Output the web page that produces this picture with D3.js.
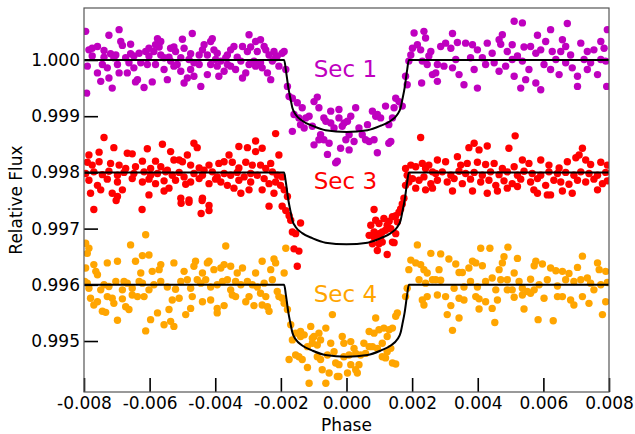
<!DOCTYPE html>
<html>
<head>
<meta charset="utf-8">
<script src="https://cdn.jsdelivr.net/npm/d3@7/dist/d3.min.js"></script>
<style>
  body { margin: 0; background: #fff; }
  svg { font-family: "DejaVu Sans", sans-serif; }
</style>
</head>
<body>
<div id="chart"></div>
<script>
// phase-folded photometry, [phase, relative flux]
var sec1Points = [
  [-0.00795,1.00051],[-0.00693,1.00054],[-0.00724,1.00044],[-0.00470,1.00047],[-0.00297,1.00045],[-0.00576,1.00038],
  [-0.00500,1.00037],[-0.00409,1.00038],[-0.00414,1.00033],[-0.00785,1.00018],[-0.00775,1.00021],[-0.00759,1.00024],
  [-0.00739,1.00017],[-0.00719,1.00011],[-0.00703,1.00009],[-0.00688,1.00033],[-0.00683,1.00026],[-0.00658,1.00028],
  [-0.00673,1.00004],[-0.00658,1.00011],[-0.00632,1.00012],[-0.00612,1.00015],[-0.00582,1.00027],[-0.00566,1.00033],
  [-0.00571,1.00023],[-0.00587,1.00015],[-0.00602,1.00007],[-0.00556,1.00004],[-0.00536,1.00021],[-0.00526,1.00023],
  [-0.00521,1.00015],[-0.00541,1.00005],[-0.00505,1.00004],[-0.00495,1.00021],[-0.00475,1.00011],[-0.00480,1.00001],
  [-0.00449,1.00009],[-0.00434,1.00027],[-0.00439,1.00018],[-0.00424,1.00009],[-0.00404,1.00018],[-0.00394,1.00012],
  [-0.00383,0.99998],[-0.00368,1.00004],[-0.00353,1.00018],[-0.00343,1.00024],[-0.00333,1.00005],[-0.00322,0.99998],
  [-0.00302,1.00015],[-0.00292,1.00023],[-0.00277,1.00033],[-0.00272,1.00015],[-0.00282,0.99998],[-0.00790,0.99989],
  [-0.00775,1.00007],[-0.00759,0.99977],[-0.00744,0.99992],[-0.00729,0.99986],[-0.00724,0.99968],[-0.00749,0.99962],
  [-0.00714,0.99950],[-0.00698,0.99992],[-0.00693,0.99977],[-0.00668,0.99977],[-0.00648,0.99986],[-0.00637,0.99965],
  [-0.00643,0.99961],[-0.00617,0.99951],[-0.00627,0.99995],[-0.00607,0.99992],[-0.00592,0.99961],[-0.00582,0.99992],
  [-0.00556,0.99983],[-0.00546,0.99965],[-0.00536,0.99998],[-0.00526,0.99989],[-0.00505,0.99980],[-0.00495,0.99959],
  [-0.00485,0.99968],[-0.00465,0.99971],[-0.00475,0.99983],[-0.00444,0.99953],[-0.00449,0.99992],[-0.00424,0.99974],
  [-0.00414,0.99992],[-0.00394,0.99989],[-0.00389,0.99971],[-0.00373,0.99980],[-0.00363,0.99992],[-0.00353,0.99989],
  [-0.00338,0.99983],[-0.00317,0.99968],[-0.00307,0.99977],[-0.00297,0.99992],[-0.00277,0.99989],[-0.00792,0.99941],
  [-0.00663,0.99995],[-0.00648,1.00007],[-0.00516,0.99992],[-0.00739,1.00005],[-0.00709,1.00004],[-0.00602,1.00021],
  [-0.00566,1.00009],[-0.00465,0.99995],[-0.00399,1.00001],[-0.00363,1.00009],[-0.00317,1.00024],
  [-0.00262,1.00036],[-0.00251,1.00024],[-0.00246,1.00018],[-0.00236,1.00009],[-0.00221,1.00015],[-0.00211,1.00007],
  [-0.00196,1.00012],[-0.00190,1.00015],[-0.00226,0.99998],[-0.00257,0.99986],[-0.00241,0.99977],[-0.00231,0.99965],
  [-0.00262,0.99995],[-0.00206,0.99989],[-0.00216,1.00004],[-0.00185,0.99983],[-0.00180,0.99953],[-0.00175,0.99935],
  [-0.00165,0.99932],[-0.00150,0.99924],[-0.00160,0.99903],[-0.00135,0.99915],[-0.00124,0.99897],[-0.00114,0.99900],
  [-0.00140,0.99885],[-0.00165,0.99873],[-0.00129,0.99879],[-0.00104,0.99882],[-0.00099,0.99926],[-0.00089,0.99934],
  [-0.00084,0.99915],[-0.00063,0.99891],[-0.00079,0.99867],[-0.00069,0.99858],[-0.00053,0.99852],[-0.00099,0.99849],
  [-0.00058,0.99832],[-0.00048,0.99909],[-0.00023,0.99912],[-0.00038,0.99879],[-0.00007,0.99888],[-0.00023,0.99897],
  [-0.00013,0.99882],[0.00003,0.99891],[0.00013,0.99900],[0.00028,0.99915],[0.00008,0.99867],[-0.00002,0.99858],
  [-0.00018,0.99843],[-0.00028,0.99820],[-0.00033,0.99817],[0.00008,0.99840],[0.00023,0.99855],[0.00038,0.99879],
  [0.00048,0.99867],[0.00064,0.99885],[0.00058,0.99858],[0.00069,0.99855],[0.00079,0.99909],[0.00089,0.99900],
  [0.00094,0.99903],[0.00104,0.99897],[0.00119,0.99918],[0.00129,0.99885],[0.00140,0.99897],[0.00084,0.99858],
  [0.00094,0.99835],[0.00129,0.99852],[0.00135,0.99855],[0.00145,0.99915],[0.00150,0.99932],[0.00160,0.99926],
  [0.00170,0.99918],[-0.00084,0.99858],[-0.00145,0.99897],[-0.00069,0.99897],[-0.00048,0.99888],
  [0.00180,0.99971],[0.00185,0.99956],[0.00190,0.99998],[0.00196,1.00009],[0.00201,1.00021],[0.00206,1.00048],
  [0.00216,1.00027],[0.00226,1.00018],[0.00236,1.00051],[0.00241,1.00039],[0.00231,0.99998],[0.00251,1.00007],
  [0.00257,1.00015],[0.00262,0.99974],[0.00229,0.99959],[0.00246,0.99992],
  [0.00511,1.00069],[0.00536,1.00066],[0.00673,1.00065],[0.00323,1.00047],[0.00622,1.00054],[0.00475,1.00045],
  [0.00582,1.00044],[0.00607,1.00033],[0.00658,1.00036],[0.00465,1.00036],[0.00287,1.00024],[0.00302,1.00030],
  [0.00318,1.00021],[0.00338,1.00031],[0.00363,1.00030],[0.00384,1.00027],[0.00399,1.00018],[0.00429,1.00030],
  [0.00444,1.00012],[0.00470,1.00028],[0.00490,1.00015],[0.00505,1.00027],[0.00521,1.00007],[0.00541,1.00023],
  [0.00561,1.00024],[0.00577,1.00012],[0.00592,1.00018],[0.00627,1.00015],[0.00653,1.00015],[0.00668,1.00024],
  [0.00683,1.00009],[0.00714,1.00030],[0.00734,1.00015],[0.00754,1.00018],[0.00775,1.00033],[0.00785,1.00021],
  [0.00795,1.00054],[0.00277,0.99992],[0.00297,0.99989],[0.00323,0.99986],[0.00343,0.99974],[0.00358,0.99956],
  [0.00389,0.99983],[0.00399,0.99950],[0.00424,0.99992],[0.00450,0.99995],[0.00465,0.99980],[0.00485,0.99989],
  [0.00511,0.99971],[0.00531,0.99950],[0.00556,0.99983],[0.00546,0.99965],[0.00577,0.99959],[0.00592,0.99947],
  [0.00602,0.99992],[0.00622,0.99983],[0.00648,0.99974],[0.00668,0.99995],[0.00688,0.99986],[0.00704,0.99971],
  [0.00704,0.99953],[0.00734,0.99983],[0.00744,0.99995],[0.00765,0.99974],[0.00790,0.99998],[0.00793,0.99953],
  [0.00277,0.99962],[0.00272,0.99977],[0.00414,1.00004],[0.00333,1.00001],[0.00378,1.00004],[0.00536,0.99998],
  [0.00638,1.00001],[0.00724,1.00001],[0.00505,1.00001],[0.00775,1.00001]
];

var sec3Points = [
  [-0.00739,0.99862],[-0.00709,0.99844],[-0.00754,0.99836],[-0.00785,0.99831],[-0.00668,0.99834],[-0.00653,0.99833],
  [-0.00607,0.99842],[-0.00561,0.99850],[-0.00536,0.99837],[-0.00510,0.99822],[-0.00485,0.99831],[-0.00465,0.99852],
  [-0.00455,0.99844],[-0.00358,0.99831],[-0.00328,0.99846],[-0.00302,0.99844],[-0.00277,0.99856],[-0.00277,0.99837],
  [-0.00790,0.99818],[-0.00775,0.99813],[-0.00754,0.99819],[-0.00719,0.99816],[-0.00693,0.99813],[-0.00673,0.99807],
  [-0.00643,0.99810],[-0.00622,0.99820],[-0.00597,0.99807],[-0.00582,0.99820],[-0.00566,0.99810],[-0.00546,0.99804],
  [-0.00526,0.99822],[-0.00500,0.99819],[-0.00475,0.99813],[-0.00449,0.99808],[-0.00434,0.99804],[-0.00419,0.99813],
  [-0.00389,0.99816],[-0.00373,0.99819],[-0.00348,0.99818],[-0.00328,0.99808],[-0.00307,0.99818],[-0.00287,0.99813],
  [-0.00795,0.99798],[-0.00770,0.99801],[-0.00744,0.99796],[-0.00724,0.99802],[-0.00698,0.99795],[-0.00678,0.99800],
  [-0.00648,0.99798],[-0.00617,0.99801],[-0.00597,0.99795],[-0.00576,0.99798],[-0.00551,0.99801],[-0.00531,0.99795],
  [-0.00510,0.99800],[-0.00495,0.99792],[-0.00465,0.99798],[-0.00439,0.99795],[-0.00409,0.99801],[-0.00394,0.99792],
  [-0.00373,0.99798],[-0.00353,0.99795],[-0.00333,0.99800],[-0.00312,0.99792],[-0.00292,0.99798],[-0.00272,0.99795],
  [-0.00785,0.99786],[-0.00759,0.99777],[-0.00729,0.99788],[-0.00698,0.99783],[-0.00683,0.99769],[-0.00653,0.99789],
  [-0.00622,0.99783],[-0.00602,0.99788],[-0.00582,0.99780],[-0.00556,0.99785],[-0.00541,0.99772],[-0.00521,0.99786],
  [-0.00490,0.99779],[-0.00475,0.99783],[-0.00449,0.99789],[-0.00419,0.99780],[-0.00399,0.99788],[-0.00383,0.99783],
  [-0.00363,0.99777],[-0.00328,0.99786],[-0.00292,0.99783],[-0.00297,0.99769],[-0.00780,0.99763],[-0.00749,0.99769],
  [-0.00714,0.99763],[-0.00698,0.99757],[-0.00602,0.99760],[-0.00505,0.99754],[-0.00480,0.99751],[-0.00439,0.99754],
  [-0.00556,0.99767],[-0.00343,0.99772],[-0.00322,0.99763],
  [-0.00770,0.99734],[-0.00623,0.99734],[-0.00504,0.99745],[-0.00480,0.99747],[-0.00443,0.99727],[-0.00419,0.99732],
  [-0.00419,0.99741],[-0.00702,0.99750],[-0.00440,0.99750],
  [-0.00257,0.99843],[-0.00231,0.99816],[-0.00216,0.99869],[-0.00206,0.99831],[-0.00262,0.99813],[-0.00246,0.99807],
  [-0.00226,0.99801],[-0.00211,0.99795],[-0.00196,0.99792],[-0.00251,0.99789],[-0.00236,0.99780],[-0.00216,0.99783],
  [-0.00201,0.99777],[-0.00190,0.99769],[-0.00180,0.99757],[-0.00257,0.99769],[-0.00221,0.99763],
  [-0.00236,0.99740],[-0.00196,0.99740],[-0.00185,0.99732],[-0.00175,0.99723],[-0.00170,0.99715],[-0.00140,0.99710],
  [-0.00165,0.99694],[-0.00155,0.99691],[-0.00160,0.99664],[-0.00145,0.99660],[-0.00150,0.99633],
  [0.00084,0.99734],[0.00089,0.99715],[0.00074,0.99706],[0.00099,0.99709],[0.00114,0.99718],[0.00130,0.99713],
  [0.00140,0.99721],[0.00150,0.99723],[0.00160,0.99729],[0.00170,0.99744],[0.00165,0.99735],[0.00069,0.99688],
  [0.00084,0.99685],[0.00099,0.99691],[0.00109,0.99694],[0.00119,0.99697],[0.00135,0.99700],[0.00150,0.99691],
  [0.00079,0.99673],[0.00099,0.99673],[0.00109,0.99676],[0.00140,0.99676],[0.00145,0.99675],[0.00094,0.99661],
  [0.00124,0.99654],[0.00084,0.99694],[0.00124,0.99706],[0.00104,0.99684],[0.00155,0.99712],[0.00175,0.99754],
  [0.00226,0.99862],[0.00180,0.99807],[0.00196,0.99813],[0.00211,0.99810],[0.00231,0.99816],[0.00241,0.99807],
  [0.00251,0.99813],[0.00262,0.99801],[0.00185,0.99795],[0.00201,0.99789],[0.00221,0.99786],[0.00236,0.99792],
  [0.00257,0.99780],[0.00180,0.99777],[0.00211,0.99772],[0.00241,0.99769],[0.00262,0.99772],[0.00190,0.99783],
  [0.00514,0.99865],[0.00373,0.99844],[0.00389,0.99852],[0.00404,0.99840],[0.00429,0.99847],[0.00495,0.99843],
  [0.00719,0.99843],[0.00709,0.99831],[0.00338,0.99828],[0.00277,0.99822],[0.00302,0.99819],[0.00348,0.99813],
  [0.00368,0.99816],[0.00399,0.99818],[0.00424,0.99814],[0.00450,0.99816],[0.00475,0.99807],[0.00511,0.99810],
  [0.00536,0.99822],[0.00556,0.99816],[0.00592,0.99822],[0.00617,0.99813],[0.00648,0.99808],[0.00673,0.99819],
  [0.00699,0.99826],[0.00729,0.99822],[0.00744,0.99814],[0.00775,0.99818],[0.00795,0.99813],[0.00272,0.99798],
  [0.00292,0.99801],[0.00318,0.99795],[0.00343,0.99802],[0.00363,0.99798],[0.00389,0.99800],[0.00414,0.99795],
  [0.00439,0.99801],[0.00465,0.99796],[0.00490,0.99801],[0.00521,0.99795],[0.00541,0.99802],[0.00566,0.99798],
  [0.00592,0.99795],[0.00617,0.99801],[0.00643,0.99798],[0.00668,0.99800],[0.00693,0.99795],[0.00714,0.99801],
  [0.00739,0.99798],[0.00765,0.99795],[0.00790,0.99800],[0.00277,0.99786],[0.00307,0.99783],[0.00328,0.99789],
  [0.00353,0.99780],[0.00378,0.99788],[0.00409,0.99783],[0.00434,0.99786],[0.00455,0.99777],[0.00480,0.99785],
  [0.00505,0.99780],[0.00531,0.99788],[0.00561,0.99783],[0.00582,0.99789],[0.00607,0.99777],[0.00632,0.99786],
  [0.00653,0.99783],[0.00678,0.99779],[0.00704,0.99786],[0.00729,0.99783],[0.00754,0.99788],[0.00780,0.99780],
  [0.00795,0.99785],[0.00323,0.99767],[0.00384,0.99767],[0.00460,0.99767],[0.00490,0.99772],[0.00571,0.99769],
  [0.00582,0.99763],[0.00612,0.99760],[0.00622,0.99760],[0.00658,0.99767],[0.00688,0.99763],[0.00765,0.99769],
  [0.00429,0.99763],[0.00521,0.99775]
];

var sec4Points = [
  [-0.00612,0.99689],[-0.00658,0.99671],[-0.00368,0.99669],[-0.00785,0.99665],[-0.00795,0.99674],[-0.00790,0.99656],
  [-0.00622,0.99652],[-0.00602,0.99653],[-0.00643,0.99642],[-0.00698,0.99642],[-0.00729,0.99639],[-0.00770,0.99636],
  [-0.00764,0.99624],[-0.00759,0.99618],[-0.00566,0.99636],[-0.00571,0.99627],[-0.00592,0.99624],[-0.00627,0.99621],
  [-0.00526,0.99639],[-0.00495,0.99624],[-0.00460,0.99642],[-0.00465,0.99633],[-0.00419,0.99642],[-0.00424,0.99639],
  [-0.00439,0.99621],[-0.00404,0.99627],[-0.00383,0.99630],[-0.00373,0.99636],[-0.00353,0.99633],[-0.00333,0.99621],
  [-0.00317,0.99630],[-0.00277,0.99621],[-0.00795,0.99630],[-0.00798,0.99606],[-0.00790,0.99603],[-0.00749,0.99591],
  [-0.00724,0.99597],[-0.00703,0.99606],[-0.00678,0.99606],[-0.00668,0.99603],[-0.00653,0.99594],[-0.00632,0.99606],
  [-0.00622,0.99603],[-0.00587,0.99600],[-0.00566,0.99606],[-0.00546,0.99596],[-0.00521,0.99592],[-0.00505,0.99606],
  [-0.00485,0.99609],[-0.00475,0.99594],[-0.00455,0.99609],[-0.00444,0.99603],[-0.00429,0.99609],[-0.00414,0.99596],
  [-0.00394,0.99600],[-0.00378,0.99606],[-0.00363,0.99609],[-0.00353,0.99591],[-0.00338,0.99606],[-0.00322,0.99600],
  [-0.00302,0.99606],[-0.00287,0.99600],[-0.00272,0.99596],[-0.00780,0.99576],[-0.00770,0.99564],[-0.00759,0.99570],
  [-0.00744,0.99553],[-0.00734,0.99551],[-0.00729,0.99579],[-0.00714,0.99576],[-0.00709,0.99567],[-0.00683,0.99575],
  [-0.00673,0.99561],[-0.00663,0.99556],[-0.00653,0.99582],[-0.00637,0.99579],[-0.00617,0.99579],[-0.00602,0.99591],
  [-0.00597,0.99538],[-0.00612,0.99518],[-0.00576,0.99550],[-0.00556,0.99529],[-0.00541,0.99556],[-0.00531,0.99573],
  [-0.00536,0.99535],[-0.00526,0.99526],[-0.00510,0.99576],[-0.00490,0.99547],[-0.00475,0.99558],[-0.00470,0.99579],
  [-0.00439,0.99570],[-0.00414,0.99573],[-0.00394,0.99558],[-0.00394,0.99550],[-0.00373,0.99563],[-0.00348,0.99582],
  [-0.00338,0.99579],[-0.00307,0.99570],[-0.00297,0.99579],[-0.00282,0.99563],[-0.00785,0.99594],[-0.00698,0.99537],
  [-0.00739,0.99600],[-0.00683,0.99591],
  [-0.00257,0.99642],[-0.00221,0.99646],[-0.00216,0.99639],[-0.00231,0.99627],[-0.00190,0.99621],[-0.00226,0.99609],
  [-0.00251,0.99603],[-0.00262,0.99585],[-0.00246,0.99579],[-0.00211,0.99588],[-0.00206,0.99579],[-0.00196,0.99576],
  [-0.00190,0.99567],[-0.00236,0.99553],[-0.00257,0.99564],[-0.00241,0.99561],[-0.00185,0.99665],[-0.00180,0.99556],
  [-0.00170,0.99529],[-0.00155,0.99514],[-0.00140,0.99517],[-0.00129,0.99511],[-0.00109,0.99526],[-0.00099,0.99508],
  [-0.00084,0.99514],[-0.00063,0.99523],[-0.00043,0.99547],[-0.00079,0.99502],[-0.00089,0.99493],[-0.00104,0.99496],
  [-0.00119,0.99490],[-0.00140,0.99508],[-0.00165,0.99502],[-0.00155,0.99475],[-0.00145,0.99472],[-0.00175,0.99467],
  [-0.00135,0.99467],[-0.00119,0.99453],[-0.00079,0.99467],[-0.00074,0.99449],[-0.00053,0.99443],[-0.00033,0.99461],
  [-0.00023,0.99458],[-0.00028,0.99437],[-0.00063,0.99425],[-0.00114,0.99425],[-0.00013,0.99508],[-0.00008,0.99496],
  [0.00013,0.99499],[0.00023,0.99487],[0.00008,0.99475],[-0.00008,0.99472],[0.00028,0.99478],[0.00043,0.99475],
  [0.00053,0.99496],[0.00069,0.99517],[0.00084,0.99514],[0.00089,0.99541],[0.00099,0.99520],[0.00114,0.99523],
  [0.00130,0.99520],[0.00140,0.99523],[0.00150,0.99544],[0.00155,0.99550],[0.00124,0.99508],[0.00109,0.99496],
  [0.00079,0.99490],[0.00094,0.99487],[0.00109,0.99472],[0.00124,0.99481],[0.00135,0.99487],[0.00119,0.99470],
  [0.00140,0.99461],[0.00150,0.99459],[0.00038,0.99458],[0.00028,0.99449],[0.00003,0.99443],[-0.00023,0.99437],
  [0.00033,0.99443],[0.00058,0.99478],[-0.00038,0.99481],[-0.00058,0.99475],[-0.00089,0.99472],[0.00013,0.99458],
  [-0.00048,0.99496],[-0.00104,0.99505],[0.00069,0.99490],
  [0.00180,0.99579],[0.00185,0.99594],[0.00190,0.99627],[0.00211,0.99639],[0.00216,0.99671],[0.00226,0.99636],
  [0.00236,0.99627],[0.00246,0.99621],[0.00257,0.99656],[0.00231,0.99573],[0.00236,0.99564],[0.00246,0.99579],
  [0.00196,0.99644],[0.00221,0.99609],[0.00241,0.99603],[0.00262,0.99609],
  [0.00409,0.99665],[0.00437,0.99665],[0.00492,0.99667],[0.00719,0.99651],[0.00287,0.99655],[0.00312,0.99646],
  [0.00333,0.99637],[0.00384,0.99642],[0.00394,0.99639],[0.00414,0.99634],[0.00480,0.99650],[0.00475,0.99639],
  [0.00521,0.99647],[0.00577,0.99642],[0.00597,0.99637],[0.00622,0.99630],[0.00638,0.99625],[0.00658,0.99624],
  [0.00678,0.99620],[0.00704,0.99631],[0.00765,0.99639],[0.00770,0.99627],[0.00282,0.99627],[0.00343,0.99622],
  [0.00353,0.99622],[0.00373,0.99630],[0.00465,0.99627],[0.00511,0.99621],[0.00572,0.99634],[0.00734,0.99612],
  [0.00790,0.99624],[0.00272,0.99609],[0.00287,0.99608],[0.00328,0.99594],[0.00358,0.99596],[0.00378,0.99606],
  [0.00399,0.99596],[0.00424,0.99606],[0.00444,0.99612],[0.00455,0.99591],[0.00470,0.99609],[0.00490,0.99609],
  [0.00505,0.99591],[0.00526,0.99606],[0.00536,0.99594],[0.00561,0.99610],[0.00587,0.99600],[0.00612,0.99609],
  [0.00643,0.99598],[0.00668,0.99609],[0.00693,0.99606],[0.00714,0.99609],[0.00744,0.99603],[0.00775,0.99600],
  [0.00795,0.99604],[0.00277,0.99582],[0.00302,0.99579],[0.00318,0.99563],[0.00343,0.99576],[0.00358,0.99573],
  [0.00394,0.99579],[0.00404,0.99575],[0.00424,0.99570],[0.00444,0.99558],[0.00460,0.99573],[0.00490,0.99591],
  [0.00511,0.99578],[0.00536,0.99582],[0.00541,0.99557],[0.00551,0.99588],[0.00561,0.99585],[0.00572,0.99591],
  [0.00602,0.99576],[0.00643,0.99579],[0.00658,0.99579],[0.00683,0.99573],[0.00693,0.99564],[0.00719,0.99579],
  [0.00739,0.99567],[0.00754,0.99591],[0.00780,0.99547],[0.00307,0.99547],[0.00343,0.99541],[0.00323,0.99519],
  [0.00404,0.99557],[0.00452,0.99533],[0.00584,0.99538],[0.00630,0.99536],[0.00790,0.99570]
];

// transit model: phase grid and depth below each sector's baseline
var modelPhase = [-0.008, -0.0019, -0.00185, -0.00177, -0.0017, -0.00165, -0.00155, -0.00135, -0.00104, -0.00064, 0,
                  0.00064, 0.00104, 0.00135, 0.00155, 0.00165, 0.0017, 0.00177, 0.00185, 0.0019, 0.008];
var modelDepth = [0, 0, 0.00017, 0.0005, 0.00071, 0.00085, 0.00097, 0.00108, 0.00117, 0.00125, 0.00128,
                  0.00125, 0.00117, 0.00108, 0.00097, 0.00085, 0.00071, 0.0005, 0.00017, 0, 0];

var sectorNames = ["Sec 1", "Sec 3", "Sec 4"];
var sectorBaseline = [1.000, 0.998, 0.996];
var sectorColors = ["#bf00bf", "#ff0000", "#ffa500"];
var sectorLabelAt = [[-0.001, 0.9997], [-0.001, 0.9977], [-0.001, 0.9957]];

var xTicks = [-0.008, -0.006, -0.004, -0.002, 0, 0.002, 0.004, 0.006, 0.008];
var yTicks = [0.995, 0.996, 0.997, 0.998, 0.999, 1.000];

var svgWidth = 635;
var svgHeight = 434;
var margin = { top: 8, right: 26, bottom: 42, left: 84 };
var width = svgWidth - margin.left - margin.right;
var height = svgHeight - margin.top - margin.bottom;

var svg = d3.select("#chart")
  .append("svg")
  .attr("width", svgWidth)
  .attr("height", svgHeight);

var chartGroup = svg.append("g")
  .attr("transform", `translate(${margin.left}, ${margin.top})`);

var xScale = d3.scaleLinear()
  .domain([-0.008, 0.008])
  .range([0, width]);

var yScale = d3.scaleLinear()
  .domain([0.994093, 1.000925])
  .range([height, 0]);

chartGroup.append("clipPath")
  .attr("id", "plotClip")
  .append("rect")
  .attr("width", width)
  .attr("height", height);

var plot = chartGroup.append("g").attr("clip-path", "url(#plotClip)");

// points
[sec1Points, sec3Points, sec4Points].forEach(function(pts, i) {
  plot.append("g")
    .selectAll("circle")
    .data(pts)
    .enter().append("circle")
    .attr("cx", d => xScale(d[0]))
    .attr("cy", d => yScale(d[1]))
    .attr("r", 3.7)
    .attr("fill", sectorColors[i]);
});

// models
var line = d3.line()
  .x(d => xScale(d[0]))
  .y(d => yScale(d[1]))
  .curve(d3.curveMonotoneX);

sectorBaseline.forEach(function(base) {
  var pts = modelPhase.map((p, j) => [p, base - modelDepth[j]]);
  plot.append("path")
    .datum(pts)
    .attr("d", line)
    .attr("fill", "none")
    .attr("stroke", "#000")
    .attr("stroke-width", 2);
});

// sector labels
sectorNames.forEach(function(name, i) {
  chartGroup.append("text")
    .attr("x", xScale(sectorLabelAt[i][0]))
    .attr("y", yScale(sectorLabelAt[i][1]))
    .attr("fill", sectorColors[i])
    .style("font-size", "23px")
    .text(name);
});

// axes (ticks point inward)
var bottomAxis = d3.axisBottom(xScale)
  .tickValues(xTicks)
  .tickSizeInner(-14)
  .tickSizeOuter(0)
  .tickPadding(5)
  .tickFormat(d => d.toFixed(3));

var leftAxis = d3.axisLeft(yScale)
  .tickValues(yTicks)
  .tickSizeInner(-14)
  .tickSizeOuter(0)
  .tickPadding(4)
  .tickFormat(d => d.toFixed(3));

var xAxisG = chartGroup.append("g")
  .attr("transform", `translate(0, ${height})`)
  .call(bottomAxis);

var yAxisG = chartGroup.append("g")
  .call(leftAxis);

[xAxisG, yAxisG].forEach(function(g) {
  g.select(".domain").remove();
  g.selectAll(".tick line").attr("stroke", "#000").attr("stroke-width", 1.6);
  g.selectAll(".tick text")
    .attr("fill", "#000")
    .style("font-size", "17px")
    .style("font-family", "'DejaVu Sans', sans-serif");
});

// frame
chartGroup.append("rect")
  .attr("width", width)
  .attr("height", height)
  .attr("fill", "none")
  .attr("stroke", "#555")
  .attr("stroke-width", 1.2);

// axis labels
chartGroup.append("text")
  .attr("transform", `translate(${-62}, ${height / 2}) rotate(-90)`)
  .attr("text-anchor", "middle")
  .style("font-size", "17px")
  .text("Relative Flux");

chartGroup.append("text")
  .attr("x", width / 2)
  .attr("y", height + 39)
  .attr("text-anchor", "middle")
  .style("font-size", "17px")
  .text("Phase");
</script>
</body>
</html>
